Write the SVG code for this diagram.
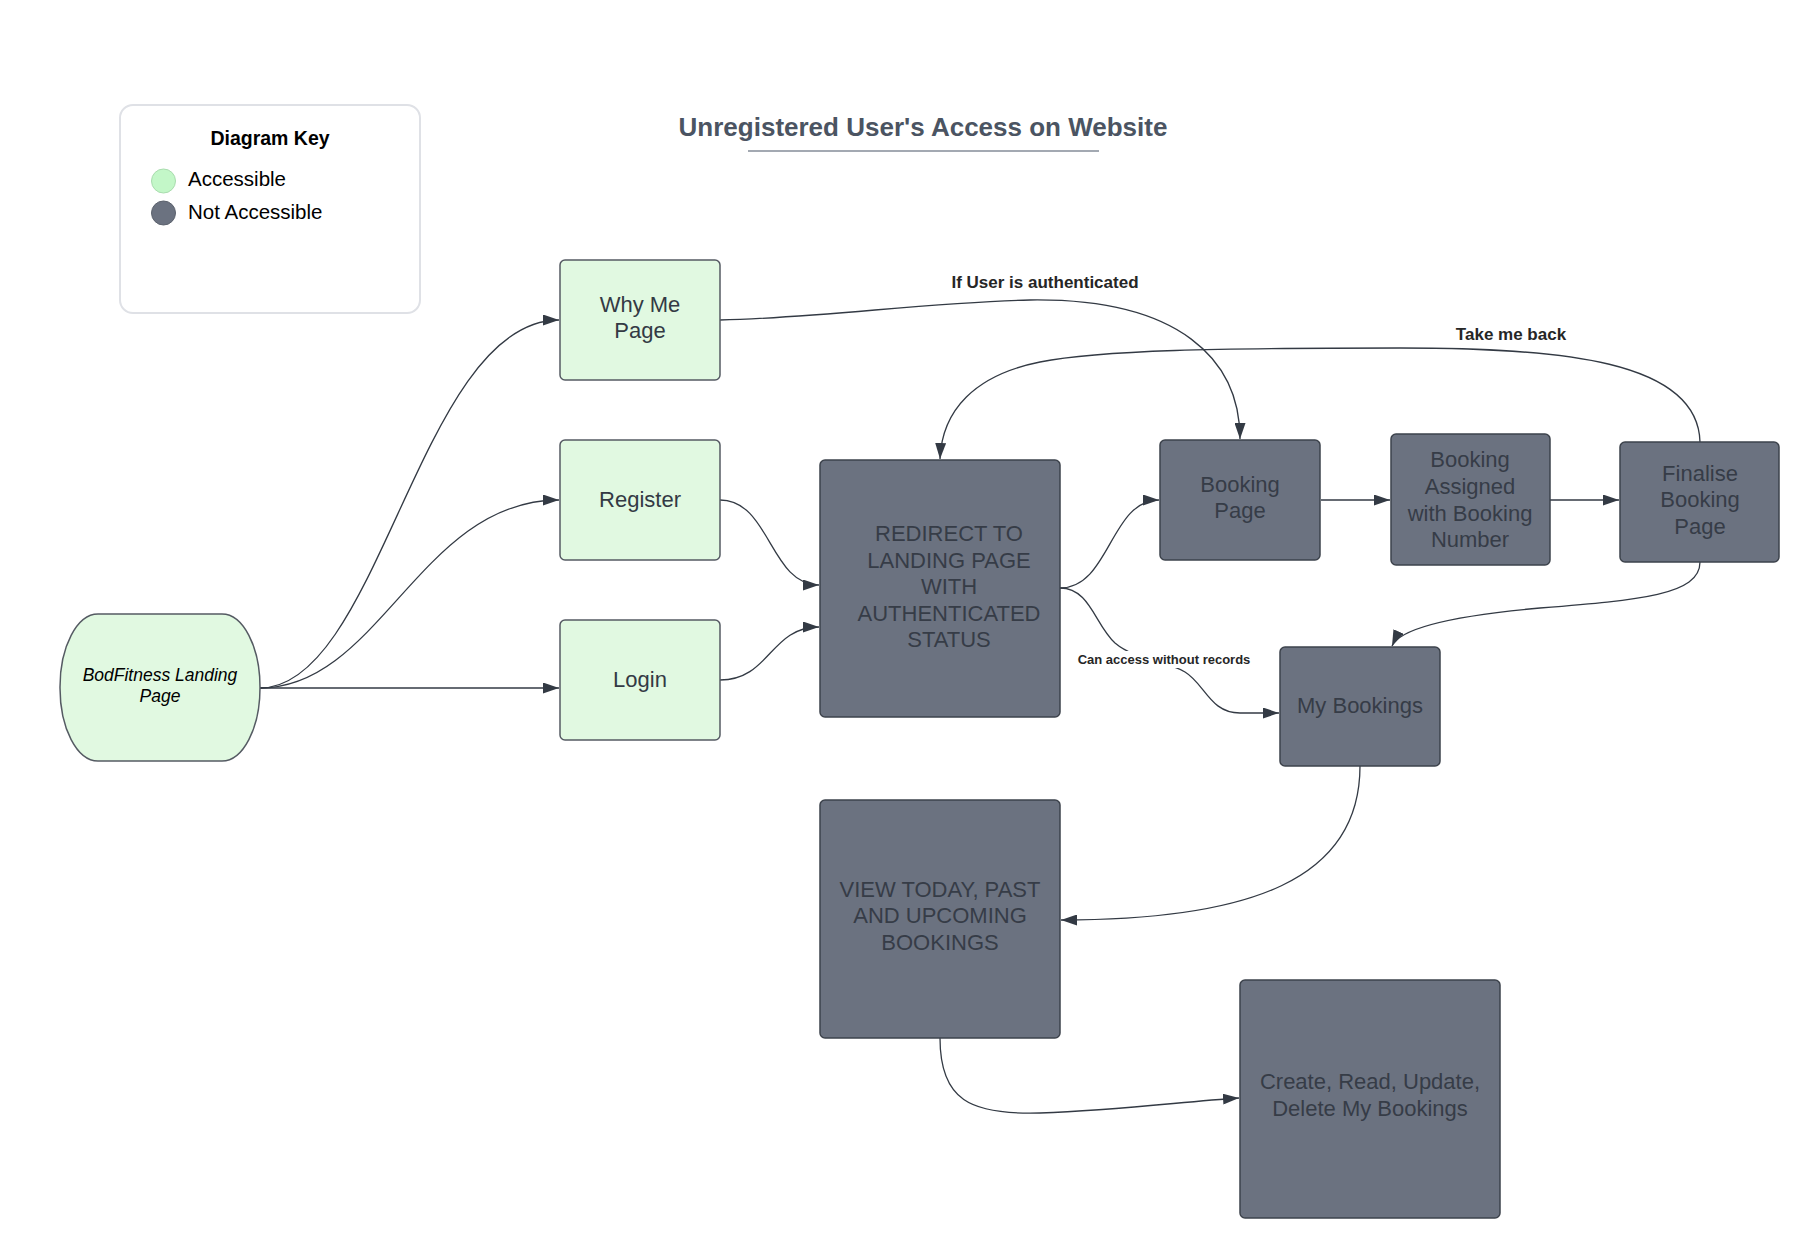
<svg xmlns="http://www.w3.org/2000/svg" width="1820" height="1258" viewBox="0 0 1820 1258">
  <defs>
    <marker id="arrow" viewBox="0 0 16 11" refX="16" refY="5.5" markerWidth="16" markerHeight="11" markerUnits="userSpaceOnUse" orient="auto">
      <path d="M0,0 L16,5.5 L0,11 z" fill="#333a44"/>
    </marker>
    <style>
      .txt { font-family: "Liberation Sans", Arial, sans-serif; }
      .open { fill: #e1f9e1; stroke: #555b63; stroke-width: 1.5; }
      .closed { fill: #6b7280; stroke: #3d434c; stroke-width: 1.5; }
      .lbl-open { font-family: "Liberation Sans", Arial, sans-serif; font-size: 22px; fill: #333a44; text-anchor: middle; }
      .lbl-closed { font-family: "Liberation Sans", Arial, sans-serif; font-size: 22px; fill: #363c47; text-anchor: middle; }
      .edge { fill: none; stroke: #333a44; stroke-width: 1.3; marker-end: url(#arrow); }
      .edge-lbl { font-family: "Liberation Sans", Arial, sans-serif; font-weight: bold; fill: #262626; text-anchor: middle; }
    </style>
  </defs>

  <rect width="1820" height="1258" fill="#ffffff"/>

  <!-- Title -->
  <g id="title">
    <text class="txt" x="923" y="136" font-size="26" font-weight="bold" fill="#4b5462" text-anchor="middle">Unregistered User's Access on Website</text>
    <line x1="748" y1="151" x2="1099" y2="151" stroke="#a3a9b2" stroke-width="2"/>
  </g>

  <!-- Legend -->
  <g id="key">
    <rect x="120" y="105" width="300" height="208" rx="13" fill="#ffffff" stroke="#dfe1e6" stroke-width="2"/>
    <text class="txt" x="270" y="145" font-size="19.5" font-weight="bold" fill="#000000" text-anchor="middle">Diagram Key</text>
    <circle cx="163.5" cy="181" r="12" fill="#c3f7c8" stroke="#a9dcae" stroke-width="1"/>
    <text class="txt" x="188" y="186" font-size="20.5" fill="#000000">Accessible</text>
    <circle cx="163.5" cy="213" r="12" fill="#6b7280" stroke="#5c626d" stroke-width="1"/>
    <text class="txt" x="188" y="219" font-size="20.5" fill="#000000">Not Accessible</text>
  </g>

  <!-- Connectors -->
  <g id="connectors">
    <path class="edge" d="M260,688 C380,688 420,320 559,320"/>
    <path class="edge" d="M260,688 C380,688 420,500 559,500"/>
    <path class="edge" d="M260,688 L559,688"/>
    <path class="edge" d="M720,500 C770,500 770,585 819,585"/>
    <path class="edge" d="M720,680 C770,680 770,627 819,627"/>
    <path class="edge" d="M720,320 C820,318 930,302 1030,300 C1180,298 1240,360 1240,439"/>
    <path class="edge" d="M1700,442 C1698,360 1560,348 1400,348 C1220,348 1100,350 1040,362 C975,375 942,410 940,459"/>
    <path class="edge" d="M1060,588 C1110,588 1110,500 1159,500"/>
    <path class="edge" d="M1321,500 L1390,500"/>
    <path class="edge" d="M1550,500 L1619,500"/>
    <path class="edge" d="M1060,588 C1090,588 1095,625 1115,643 C1135,660 1165,660 1185,672 C1205,684 1210,713 1240,713 L1279,713"/>
    <path class="edge" d="M1700,562 C1700,595 1640,600 1540,608 C1450,616 1400,628 1392,646"/>
    <path class="edge" d="M1360,766 C1360,880 1250,920 1061,920"/>
    <path class="edge" d="M940,1038 C940,1100 970,1115 1040,1113 C1120,1110 1180,1102 1239,1098"/>

    <text class="edge-lbl" x="1045" y="288" font-size="17">If User is authenticated</text>
    <text class="edge-lbl" x="1511" y="340" font-size="17">Take me back</text>
    <rect x="1073" y="651" width="184" height="17" fill="#ffffff"/>
    <text class="edge-lbl" x="1164" y="664" font-size="13">Can access without records</text>
  </g>

  <!-- Nodes -->
  <g id="landing">
    <rect class="open" x="60" y="614" width="200" height="147" rx="38" ry="73"/>
    <text class="txt" x="160" y="681" font-size="17.5" font-style="italic" fill="#000000" text-anchor="middle">BodFitness Landing</text>
    <text class="txt" x="160" y="702" font-size="17.5" font-style="italic" fill="#000000" text-anchor="middle">Page</text>
  </g>

  <g id="why-me">
    <rect class="open" x="560" y="260" width="160" height="120" rx="5"/>
    <text class="lbl-open" x="640" y="312">Why Me</text>
    <text class="lbl-open" x="640" y="338">Page</text>
  </g>

  <g id="register">
    <rect class="open" x="560" y="440" width="160" height="120" rx="5"/>
    <text class="lbl-open" x="640" y="507">Register</text>
  </g>

  <g id="login">
    <rect class="open" x="560" y="620" width="160" height="120" rx="5"/>
    <text class="lbl-open" x="640" y="687">Login</text>
  </g>

  <g id="redirect">
    <rect class="closed" x="820" y="460" width="240" height="257" rx="5"/>
    <text class="lbl-closed" x="949" y="541">REDIRECT TO</text>
    <text class="lbl-closed" x="949" y="568">LANDING PAGE</text>
    <text class="lbl-closed" x="949" y="594">WITH</text>
    <text class="lbl-closed" x="949" y="621">AUTHENTICATED</text>
    <text class="lbl-closed" x="949" y="647">STATUS</text>
  </g>

  <g id="booking-page">
    <rect class="closed" x="1160" y="440" width="160" height="120" rx="5"/>
    <text class="lbl-closed" x="1240" y="492">Booking</text>
    <text class="lbl-closed" x="1240" y="518">Page</text>
  </g>

  <g id="booking-assigned">
    <rect class="closed" x="1391" y="434" width="159" height="131" rx="5"/>
    <text class="lbl-closed" x="1470" y="467">Booking</text>
    <text class="lbl-closed" x="1470" y="494">Assigned</text>
    <text class="lbl-closed" x="1470" y="521">with Booking</text>
    <text class="lbl-closed" x="1470" y="547">Number</text>
  </g>

  <g id="finalise">
    <rect class="closed" x="1620" y="442" width="159" height="120" rx="5"/>
    <text class="lbl-closed" x="1700" y="481">Finalise</text>
    <text class="lbl-closed" x="1700" y="507">Booking</text>
    <text class="lbl-closed" x="1700" y="534">Page</text>
  </g>

  <g id="my-bookings">
    <rect class="closed" x="1280" y="647" width="160" height="119" rx="5"/>
    <text class="lbl-closed" x="1360" y="713">My Bookings</text>
  </g>

  <g id="view-bookings">
    <rect class="closed" x="820" y="800" width="240" height="238" rx="5"/>
    <text class="lbl-closed" x="940" y="897">VIEW TODAY, PAST</text>
    <text class="lbl-closed" x="940" y="923">AND UPCOMING</text>
    <text class="lbl-closed" x="940" y="950">BOOKINGS</text>
  </g>

  <g id="crud">
    <rect class="closed" x="1240" y="980" width="260" height="238" rx="5"/>
    <text class="lbl-closed" x="1370" y="1089">Create, Read, Update,</text>
    <text class="lbl-closed" x="1370" y="1116">Delete My Bookings</text>
  </g>
</svg>
